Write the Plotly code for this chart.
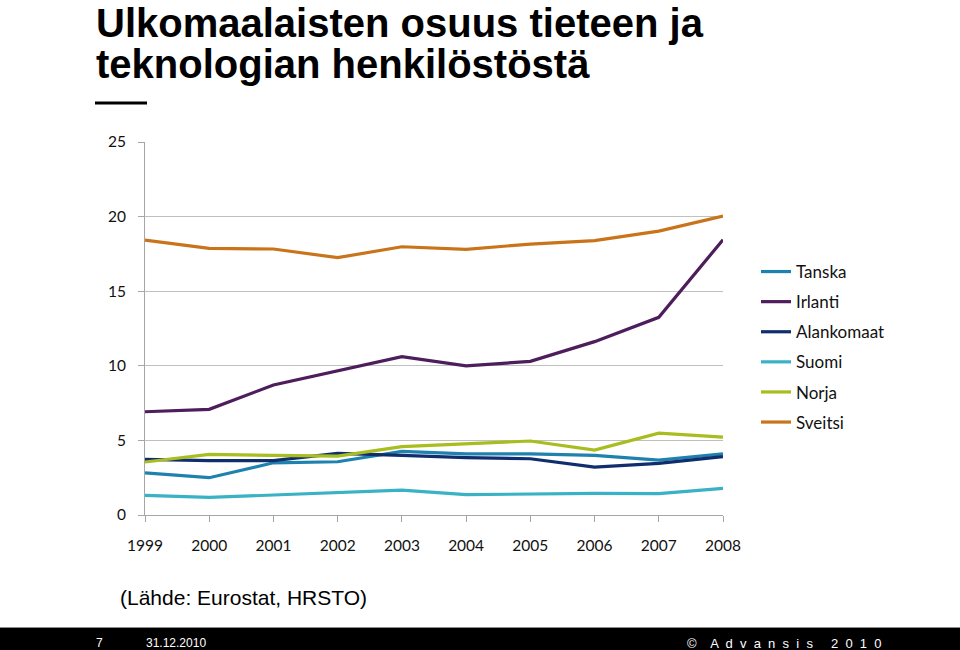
import plotly.graph_objects as go

years = [1999, 2000, 2001, 2002, 2003, 2004, 2005, 2006, 2007, 2008]
year_labels = [str(y) for y in years]

tanska = [2.83, 2.50, 3.50, 3.57, 4.26, 4.10, 4.10, 4.00, 3.68, 4.10]
irlanti = [6.92, 7.08, 8.71, 9.67, 10.61, 9.99, 10.30, 11.62, 13.25, 18.45]
alankomaat = [3.73, 3.64, 3.64, 4.13, 4.00, 3.84, 3.77, 3.21, 3.46, 3.91]
suomi = [1.32, 1.18, 1.34, 1.50, 1.67, 1.36, 1.41, 1.45, 1.43, 1.79]
norja = [3.55, 4.06, 4.00, 3.95, 4.58, 4.75, 4.96, 4.35, 5.49, 5.22]
sveitsi = [18.43, 17.87, 17.83, 17.25, 17.98, 17.80, 18.16, 18.39, 19.03, 20.04]

y_ticks = [0, 5, 10, 15, 20, 25]

series = [
    ("Tanska", tanska, "#1F82AE"),
    ("Irlanti", irlanti, "#4E1D5C"),
    ("Alankomaat", alankomaat, "#102E6E"),
    ("Suomi", suomi, "#38B2C4"),
    ("Norja", norja, "#A8BD1F"),
    ("Sveitsi", sveitsi, "#C9741B"),
]

W, H = 960, 650
X0, X1, Y0, Y1 = 145, 723, 142, 515  # plot area in screen pixels
L, T = X0, Y0
R, B = W - X1, H - Y1
PW, PH = X1 - X0, Y1 - Y0


def px(x):
    return (x - X0) / PW


def py(y):
    return (Y1 - y) / PH


fig = go.Figure()
for i, (name, vals, col) in enumerate(series):
    fig.add_trace(go.Scatter(
        x=years, y=vals, name=name, mode="lines",
        line=dict(color=col, width=3.2),
        legendgroup=f"g{i}",
    ))

fig.update_layout(
    width=W, height=H,
    margin=dict(l=L, r=R, t=T, b=B, pad=0),
    paper_bgcolor="white", plot_bgcolor="white",
    font=dict(family="Lato", color="#111111"),
    showlegend=True,
    legend=dict(
        x=px(756), y=py(254), xanchor="left", yanchor="top",
        font=dict(family="Lato", size=17, color="#111111"),
        itemwidth=30, tracegroupgap=5,
        bgcolor="rgba(0,0,0,0)",
    ),
    xaxis=dict(
        range=[1999, 2008], tickmode="array", tickvals=years, ticktext=year_labels,
        showgrid=False, zeroline=False,
        showline=True, linecolor="#A6A6A6", linewidth=1,
        ticks="outside", ticklen=6, tickcolor="#A6A6A6",
        tickfont=dict(family="Lato", size=15.5, color="#111111"),
        ticklabelstandoff=10,
    ),
    yaxis=dict(
        range=[0, 25], tickmode="array", tickvals=y_ticks,
        showgrid=True, gridcolor="#C0C0C0", gridwidth=1,
        zeroline=False,
        showline=True, linecolor="#A6A6A6", linewidth=1,
        ticks="outside", ticklen=6, tickcolor="#A6A6A6",
        tickfont=dict(family="Lato", size=15.5, color="#111111"),
        ticklabelstandoff=9,
    ),
)

annotations = [
    dict(text="<b>Ulkomaalaisten osuus tieteen ja</b>", x=px(94), y=py(23),
         xanchor="left", yanchor="middle",
         font=dict(family="Liberation Sans", size=40, color="#000000")),
    dict(text="<b>teknologian henkilöstöstä</b>", x=px(94), y=py(64),
         xanchor="left", yanchor="middle",
         font=dict(family="Liberation Sans", size=40, color="#000000")),
    dict(text="(Lähde: Eurostat, HRSTO)", x=px(118), y=py(597),
         xanchor="left", yanchor="middle",
         font=dict(family="Liberation Sans", size=21, color="#000000")),
    dict(text="7", x=px(94), y=py(643), xanchor="left", yanchor="middle",
         font=dict(family="Liberation Sans", size=12, color="#FFFFFF")),
    dict(text="31.12.2010", x=px(144), y=py(643), xanchor="left", yanchor="middle",
         font=dict(family="Liberation Sans", size=12, color="#FFFFFF")),
    dict(text="©    A  d  v  a  n  s  i  s     2  0  1  0", x=px(685), y=py(643),
         xanchor="left", yanchor="middle",
         font=dict(family="Liberation Sans", size=13, color="#FFFFFF")),
]
for a in annotations:
    a.update(xref="paper", yref="paper", showarrow=False)
fig.update_layout(annotations=annotations)

shapes = [
    # footer bar
    dict(type="rect", xref="paper", yref="paper",
         x0=px(-2), x1=px(962), y0=py(628), y1=py(652),
         fillcolor="#000000", line=dict(width=0), layer="below"),
    dict(type="line", xref="paper", yref="paper",
         x0=px(-2), x1=px(962), y0=py(627.5), y1=py(627.5),
         line=dict(color="#8C8C8C", width=1)),
    # title underline
    dict(type="line", xref="paper", yref="paper",
         x0=px(95), x1=px(147), y0=py(103), y1=py(103),
         line=dict(color="#000000", width=3)),
]
fig.update_layout(shapes=shapes)

fig.write_html(
    "out.html",
    config={"displayModeBar": False},
    post_script="document.body.style.margin='0';document.body.style.overflow='hidden';",
)
